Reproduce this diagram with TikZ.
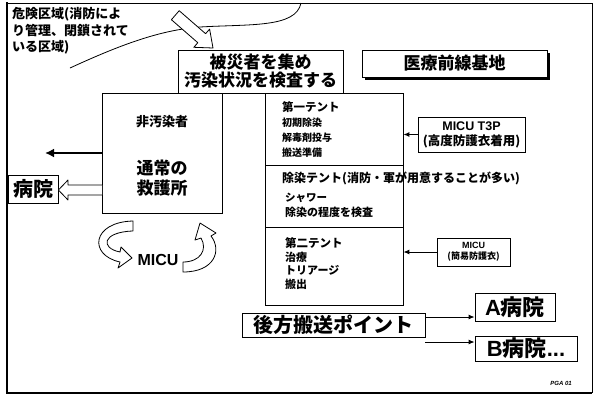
\documentclass[tikz,border=0pt]{standalone}
\usepackage{fontspec}
\setmainfont{Noto Sans CJK JP}
\newfontfamily\latf{Liberation Sans}
\usetikzlibrary{arrows.meta}
\newcommand\fsz[2]{\fontsize{#1pt}{#2pt}\selectfont}
\begin{document}
\begin{tikzpicture}[x=1pt,y=-1pt,
  fs/.style 2 args={font=\bfseries\fsz{#1}{#2}},
  box/.style={draw, line width=0.8pt, inner sep=0pt, align=center, fill=white},
  lbl/.style={anchor=west, inner sep=0pt},
  arr/.style={line width=1pt, -{Latex[length=6pt,width=5pt]}},
  hollow/.style={draw, line width=0.8pt, fill=white, line join=round},
]
\useasboundingbox (0,0) rectangle (593,397);

% frame
\draw[line width=0.8pt] (7,3) -- (592,3) -- (592,393);
\draw[line width=2.6pt] (7,2) -- (7,393) -- (592,393);

% danger zone
\draw[line width=0.8pt] (70,68) .. controls (120,45) and (160,30) .. (200,27)
  .. controls (250,24) and (296,28) .. (301,3);
\node[lbl, fs={13}{13}] (d1) at (12,14) {危険区域(消防によ};
\node[lbl, fs={13}{13}] (d2) at (12,31) {り管理、閉鎖されて};
\node[lbl, fs={13}{13}] (d3) at (12,47) {いる区域)};

% top hollow arrow
\draw[hollow] (171.4,19.7) -- (179.2,10.7) -- (205.6,33.7) -- (209.6,29.1)
  -- (213,48) -- (193.8,47.3) -- (197.8,42.7) -- cycle;

% collect box
\node[box, minimum width=165pt, minimum height=43pt, fs={17}{18}] (collect) at (260.5,71.5)
  {被災者を集め\\汚染状況を検査する};

% base box with shadow
\fill (365,53) rectangle (549.5,79.5);
\node[box, minimum width=185pt, minimum height=27pt, fs={17}{17}] (base) at (454.5,63.5)
  {医療前線基地};

% left aid station
\node[box, minimum width=120pt, minimum height=120pt] (aid) at (162,153) {};
\node[fs={13}{13}, inner sep=0pt] (nc) at (162,122) {非汚染者};
\node[fs={17}{20}, inner sep=0pt, align=center] (aidtxt) at (162,178) {通常の\\救護所};

% arrows out of aid station
\coordinate (lout) at (45,153);
\draw[line width=2.2pt, -{Latex[length=9pt,width=9pt]}] (aid.west |- lout) -- (lout);
\node[box, minimum width=50pt, minimum height=28pt, fs={20}{20}] (hosp) at (33,189) {病院};
\draw[hollow] (102,185) -- (68,185) -- (68,180) -- (hosp.east |- 0,190) -- (68,200) -- (68,195) -- (102,195);

% MICU cycle
\draw[hollow] (133,221) .. controls (92,222) and (88,255) .. (120,262) -- (118,268)
  -- (132,258) -- (121,247) -- (120,252) .. controls (100,248) and (102,232) .. (133,231) -- cycle;
\draw[hollow] (183,272) .. controls (215,272) and (222,250) .. (211,236) -- (216,233)
  -- (200,223) -- (195,240) -- (201,238) .. controls (208,250) and (200,262) .. (183,262) -- cycle;
\node[inner sep=0pt, font=\latf\bfseries\fsz{16}{16}] (micu) at (158,260) {MICU};

% tents
\node[box, minimum width=138pt, minimum height=72pt] (tent1) at (334,129) {};
\node[box, minimum width=138pt, minimum height=62pt] (decon) at (334,196) {};
\node[box, minimum width=138pt, minimum height=78pt] (tent2) at (334,266) {};

\node[lbl, fs={11.5}{11.5}] (t1a) at (282,107) {第一テント};
\node[lbl, fs={10}{10}] (t1b) at (282,123) {初期除染};
\node[lbl, fs={10}{10}] (t1c) at (282,138) {解毒剤投与};
\node[lbl, fs={10}{10}] (t1d) at (282,153) {搬送準備};

\node[lbl, fs={12}{12}] (da) at (282,178) {除染テント(消防・軍が用意することが多い)};
\node[lbl, fs={10.5}{10.5}] (db) at (285,198) {シャワー};
\node[lbl, fs={11}{11}] (dc) at (285,212) {除染の程度を検査};

\node[lbl, fs={11.5}{11.5}] (t2a) at (285,243) {第二テント};
\node[lbl, fs={11}{11}] (t2b) at (285,257) {治療};
\node[lbl, fs={11}{11}] (t2c) at (285,270) {トリアージ};
\node[lbl, fs={11}{11}] (t2d) at (285,284) {搬出};

% MICU teams
\node[box, minimum width=107pt, minimum height=35pt, fs={12.5}{15}] (t3p) at (471.5,134.5)
  {{\latf\bfseries MICU T3P}\\(高度防護衣着用)};
\draw[arr] (t3p.west) -- (tent1.east |- t3p.west);
\node[box, minimum width=73pt, minimum height=28pt, fs={9}{11}] (micu2) at (473.5,252)
  {{\latf\bfseries MICU}\\(簡易防護衣)};
\draw[arr] (micu2.west) -- (tent2.east |- micu2.west);

% transport
\node[box, minimum width=183pt, minimum height=24pt, fs={20}{20}] (post) at (333.5,325) {後方搬送ポイント};
\node[box, minimum width=80pt, minimum height=28pt, fs={22}{22}] (hA) at (515,307) {{\latf\bfseries A}病院};
\node[box, minimum width=102pt, minimum height=25pt, fs={22}{22}] (hB) at (526,348.5) {{\latf\bfseries B}病院{\latf\bfseries ...}};
\draw[arr] (post.east |- 0,317) -- (hA.west |- 0,317);
\draw[arr] (post.east |- 0,342) -- (hB.west |- 0,342);

\node[inner sep=0pt, font=\latf\bfseries\itshape\fsz{6}{6}] (pga) at (561,383) {PGA 01};
\end{tikzpicture}
\end{document}
